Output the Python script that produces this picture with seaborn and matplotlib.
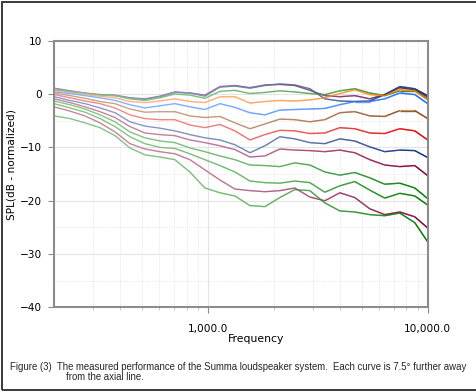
import numpy as np
import pandas as pd
import matplotlib
matplotlib.use("Agg")
import matplotlib.pyplot as plt
import seaborn as sns
from matplotlib.collections import LineCollection
from matplotlib.patches import Rectangle
from matplotlib.ticker import FixedLocator, FuncFormatter, NullFormatter, MultipleLocator

# frequency points (Hz) the curves were read at
freq = [200, 236, 276, 323, 378, 442, 517, 605, 708, 828, 969, 1134, 1327,
        1553, 1817, 2125, 2486, 2909, 3404, 3983, 4660, 5452, 6379, 7464, 8733, 10000]

# SPL (dB, normalized), one curve per 7.5 deg off axis
c01 = [1.1, 0.6, 0.2, -0.1, -0.2, -0.7, -0.9, -0.4, 0.4, 0.2, -0.2, 1.4, 1.6,
       1.2, 1.7, 1.8, 1.6, 0.7, -0.3, -0.5, -0.3, -0.9, -0.1, 1.2, 0.8, -0.5]
c02 = [1.0, 0.5, 0.1, -0.2, -0.3, -0.8, -1.0, -0.5, 0.3, 0.2, -0.4, 1.3, 1.5,
       1.1, 1.6, 1.9, 1.7, 1.0, -0.9, -1.3, -1.4, -1.3, -0.1, 1.4, 1.0, -0.3]
c03 = [0.8, 0.4, 0.1, -0.2, -0.3, -0.9, -1.2, -0.7, 0.0, -0.2, -0.8, 0.5, 0.7,
       0.1, 0.3, 0.6, 0.4, 0.1, -0.1, 0.6, 1.0, 0.2, -0.3, 0.6, 0.6, -0.9]
c04 = [0.6, 0.2, -0.1, -0.4, -0.7, -1.4, -1.6, -1.3, -0.9, -1.4, -1.6, -0.5, -0.5,
       -1.7, -1.4, -1.2, -1.3, -1.1, -0.7, 0.1, 0.8, -0.1, -0.3, 0.8, 0.6, -1.1]
c05 = [0.4, 0.1, -0.3, -0.7, -1.2, -2.0, -2.6, -2.2, -1.8, -2.4, -2.9, -1.8, -2.5,
       -3.5, -3.9, -3.0, -2.9, -2.8, -2.7, -2.0, -1.4, -1.4, -0.9, 0.2, -0.1, -1.8]
c06 = [0.2, -0.3, -0.8, -1.4, -1.8, -2.8, -3.4, -3.3, -3.3, -4.1, -4.4, -4.2, -5.4,
       -6.5, -5.6, -4.7, -4.8, -5.2, -4.8, -3.5, -3.3, -4.1, -4.2, -3.1, -3.1, -4.6]
c07 = [-0.1, -0.7, -1.3, -1.8, -2.6, -3.9, -4.6, -4.8, -4.8, -5.8, -6.3, -5.7, -6.9,
       -8.6, -7.6, -6.8, -6.9, -7.4, -7.3, -6.3, -6.5, -7.3, -7.4, -6.5, -6.9, -8.6]
c08 = [-0.5, -1.2, -1.8, -2.6, -3.5, -5.2, -6.0, -6.4, -6.9, -7.6, -8.2, -8.6, -9.5,
       -11.0, -9.7, -8.0, -8.4, -9.1, -9.3, -8.4, -8.8, -9.9, -10.8, -10.5, -10.6, -11.9]
c09 = [-0.9, -1.6, -2.4, -3.3, -4.4, -6.1, -7.3, -7.6, -7.8, -8.6, -9.1, -9.7, -10.4,
       -11.8, -11.6, -10.3, -10.5, -10.6, -10.8, -10.5, -11.0, -12.3, -13.3, -13.6, -13.4, -15.3]
c10 = [-1.3, -2.0, -2.8, -3.9, -5.2, -7.1, -8.2, -8.8, -9.1, -10.1, -10.8, -11.6, -12.3,
       -13.3, -13.4, -13.6, -12.9, -13.3, -14.6, -15.2, -14.7, -15.7, -16.9, -16.7, -17.6, -19.6]
c11 = [-1.8, -2.6, -3.4, -4.6, -6.1, -8.0, -9.3, -10.0, -10.2, -11.2, -12.3, -13.4, -14.6,
       -16.3, -16.6, -16.7, -16.3, -16.6, -18.4, -17.2, -16.4, -18.0, -19.5, -18.6, -19.1, -20.8]
c12 = [-2.4, -3.2, -4.1, -5.4, -7.1, -9.3, -10.3, -10.8, -11.2, -12.3, -14.2, -16.1, -17.8,
       -18.1, -18.3, -18.1, -17.6, -19.3, -20.0, -18.5, -19.4, -21.5, -22.6, -22.1, -23.0, -25.1]
c13 = [-4.1, -4.6, -5.4, -6.3, -7.8, -10.1, -11.4, -11.8, -12.3, -14.6, -17.6, -18.5, -19.1,
       -20.9, -21.1, -19.4, -17.9, -18.1, -20.4, -21.9, -22.1, -22.6, -22.8, -22.3, -24.1, -27.7]

curves = [c01, c02, c03, c04, c05, c06, c07, c08, c09, c10, c11, c12, c13]
names = [f"{7.5 * i:.1f} deg" for i in range(len(curves))]

# pale colour at low frequency, full colour at high frequency
light = ["#a97aa3", "#8a9cbc", "#86c486", "#ffb486", "#86b4ff", "#c9a48c", "#f08c8c",
         "#8a9cc4", "#c686a0", "#86c486", "#86c486", "#c686a0", "#86c486"]
dark = ["#6a1a5a", "#1a3a7a", "#1a8a1a", "#ff8000", "#1a6aff", "#8a4a10", "#e00000",
        "#10307a", "#800040", "#007a00", "#007a00", "#800040", "#007a00"]

df = pd.DataFrame({
    "freq": np.tile(freq, len(curves)),
    "spl": np.concatenate(curves),
    "curve": np.repeat(names, len(freq)),
})

fig = plt.figure(figsize=(4.76, 3.92), dpi=100)
ax = fig.add_axes([0.114, 0.2156, 0.7845, 0.6806])
sns.set_style("white")
plt.rcParams["font.family"] = ["Liberation Sans", "DejaVu Sans"]

sns.lineplot(data=df, x="freq", y="spl", hue="curve", palette=light,
             estimator=None, legend=False, lw=1.0, ax=ax)

# darken every curve towards the high end
lf = np.log10(freq)
t = (lf - lf[0]) / (lf[-1] - lf[0])
tm = (t[:-1] + t[1:]) / 2
for vals, col in zip(curves, dark):
    pts = np.column_stack([freq, vals])
    segs = np.stack([pts[:-1], pts[1:]], axis=1)
    rgba = np.array([matplotlib.colors.to_rgba(col, a) for a in np.clip(tm, 0, 1) ** 2.6])
    ax.add_collection(LineCollection(segs, colors=rgba, lw=1.0, capstyle="butt"))

ax.set_xscale("log")
ax.set_xlim(200, 10000)
ax.set_ylim(-40, 10)

ax.xaxis.set_major_locator(FixedLocator([1000, 10000]))
ax.xaxis.set_minor_locator(FixedLocator([300, 400, 500, 600, 700, 800, 900,
                                         2000, 3000, 4000, 5000, 6000, 7000, 8000, 9000]))
ax.xaxis.set_major_formatter(FuncFormatter(lambda v, p: f"{v:,.1f}"))
ax.xaxis.set_minor_formatter(NullFormatter())
ax.yaxis.set_major_locator(MultipleLocator(10))
ax.yaxis.set_minor_locator(MultipleLocator(5))

ax.grid(which="major", color="#e4e4e4", lw=0.8, ls="-")
ax.grid(which="minor", color="#dcdcdc", lw=0.6, ls=":")
ax.set_axisbelow(True)

for s in ax.spines.values():
    s.set_color("#8c8c8c")
    s.set_linewidth(1.5)

ax.tick_params(axis="y", which="major", length=4, width=0.8, color="#8c8c8c",
               labelsize=7.6, pad=5, left=True)
ax.tick_params(axis="y", which="minor", length=0)
ax.tick_params(axis="x", which="major", length=4, width=0.8, color="#8c8c8c",
               labelsize=7.6, pad=8, bottom=True)
ax.tick_params(axis="x", which="minor", length=2, width=0.6, color="#bbbbbb", bottom=True)

ax.set_xlabel("Frequency", fontsize=7.8)
ax.set_ylabel("SPL(dB - normalized)", fontsize=7.6)
ax.xaxis.set_label_coords(0.54, -0.1)
ax.yaxis.set_label_coords(-0.1, 0.535)

fig.text(10 / 476, 1 - 366.5 / 392, "Figure (3)  The measured performance of the Summa "
         "loudspeaker system.  Each curve is 7.5\u00b0 further away",
         fontsize=6.95, va="center", ha="left")
fig.text(65.5 / 476, 1 - 377.5 / 392, "from the axial line.", fontsize=6.95,
         va="center", ha="left")

# outer frame
fig.patches.append(Rectangle((1.5 / 476, 2 / 392), 1.2, 1 - 3.5 / 392, transform=fig.transFigure,
                             fill=False, edgecolor="#3a3a3a", lw=1.4, figure=fig))

fig.savefig("out.png", dpi=100)
